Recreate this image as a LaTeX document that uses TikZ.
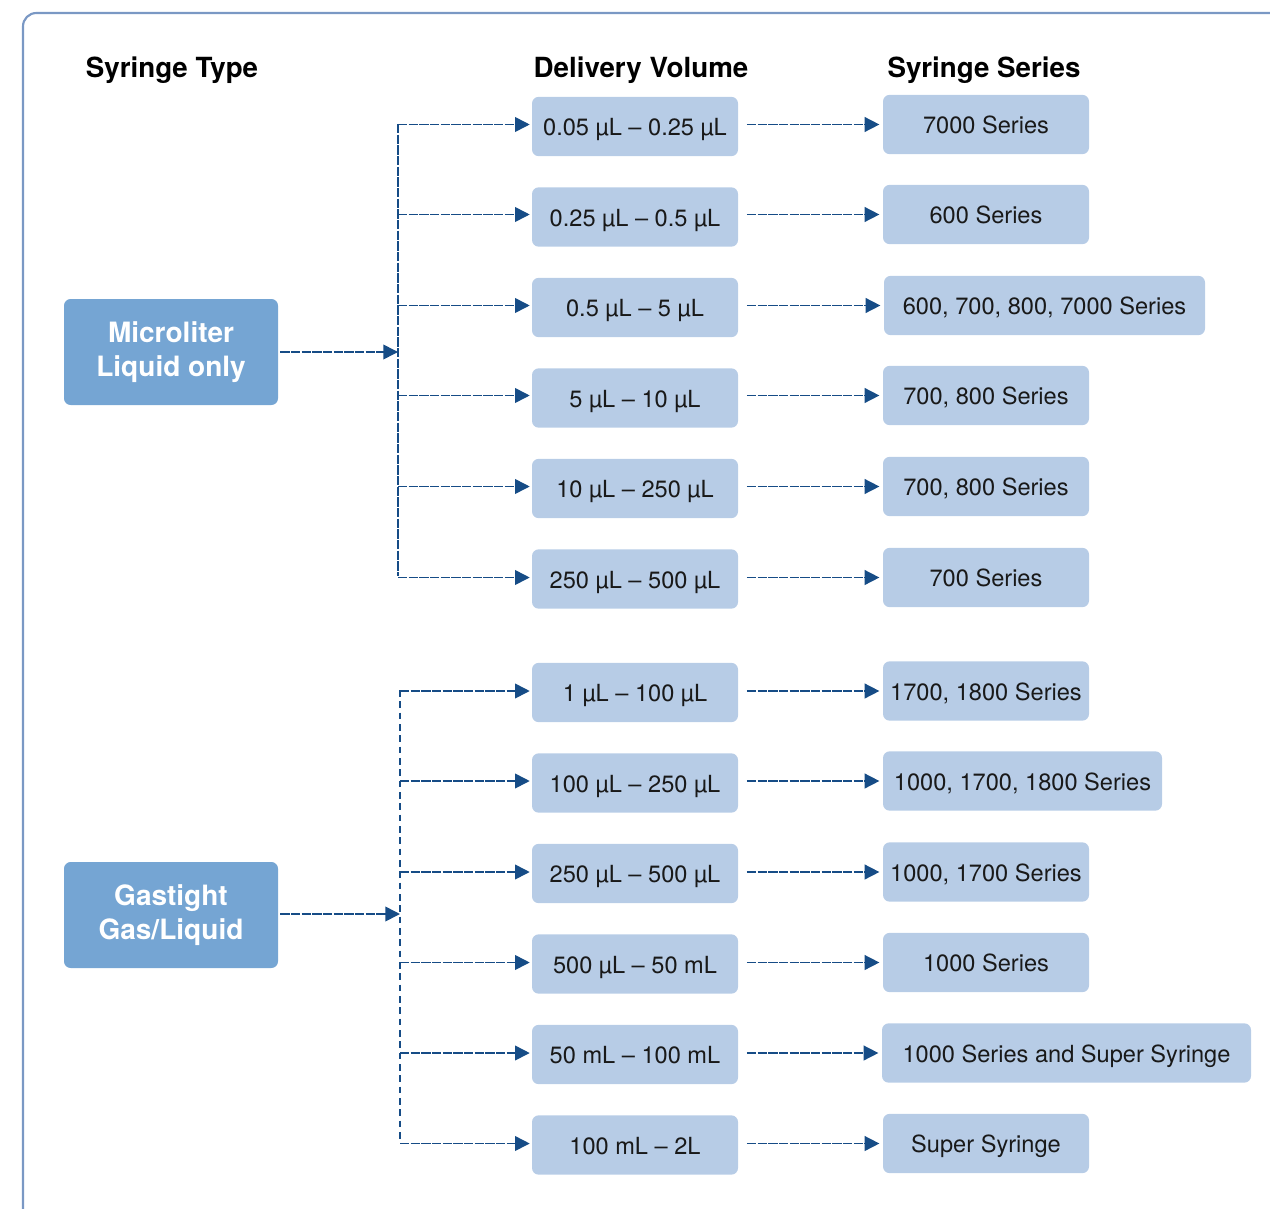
\documentclass[tikz,border=0pt]{standalone}
\usepackage{fontspec}
\setmainfont{TeX Gyre Heros}
\usetikzlibrary{arrows.meta}
\definecolor{framec}{RGB}{122,152,196}
\definecolor{darkbox}{RGB}{117,165,211}
\definecolor{lightbox}{RGB}{183,204,230}
\definecolor{arrc}{RGB}{22,76,134}
\definecolor{txt}{RGB}{25,25,25}
\tikzset{
  header/.style={font=\fontsize{20.8}{24}\selectfont\bfseries, text=black},
  typebox/.style={fill=darkbox, rounded corners=5pt, minimum width=160.5pt, minimum height=79.5pt, inner sep=0pt, align=center, text=white, font=\fontsize{21}{25.5}\selectfont\bfseries},
  volbox/.style={fill=lightbox, rounded corners=5pt, minimum width=154.5pt, minimum height=44.5pt, inner sep=0pt, text=txt, font=\fontsize{17.7}{21}\selectfont, text height=14.2pt, text depth=0pt},
  serbox/.style={volbox},
  conn/.style={draw=arrc, line width=1.2pt, dash pattern=on 7pt off 1pt},
  trunk2/.style={draw=arrc, line width=1.2pt, dash pattern=on 5pt off 3.5pt},
  arr/.style={conn, -{Triangle[length=11pt,width=11pt]}},
}
\begin{document}
\begin{tikzpicture}[x=0.75pt,y=-0.75pt]
\useasboundingbox (0,0) rectangle (1270,1209);
% frame
\draw[framec, line width=1.6pt, rounded corners=10pt] (23,1220) -- (23,13) -- (1280,13);
% headers
\node[header] (h1) at (172,70) {Syringe Type};
\node[header] (h2) at (641,70) {Delivery Volume};
\node[header] (h3) at (984,70) {Syringe Series};
% type boxes
\node[typebox] (mic) at (171,352) {\raisebox{-3pt}{Microliter}\\\raisebox{-3pt}{Liquid only}};
\node[typebox] (gas) at (171,915) {\raisebox{-3pt}{Gastight}\\\raisebox{-3pt}{Gas/Liquid}};
% volume boxes
\node[volbox] (v1) at (635,126.5) {0.05 µL – 0.25 µL};
\node[volbox] (v2) at (635,217) {0.25 µL – 0.5 µL};
\node[volbox] (v3) at (635,307.5) {0.5 µL – 5 µL};
\node[volbox] (v4) at (635,398) {5 µL – 10 µL};
\node[volbox] (v5) at (635,488.5) {10 µL – 250 µL};
\node[volbox] (v6) at (635,579) {250 µL – 500 µL};
\node[volbox] (v7) at (635,692.5) {1 µL – 100 µL};
\node[volbox] (v8) at (635,783) {100 µL – 250 µL};
\node[volbox] (v9) at (635,873.5) {250 µL – 500 µL};
\node[volbox] (v10) at (635,964) {500 µL – 50 mL};
\node[volbox] (v11) at (635,1054.5) {50 mL – 100 mL};
\node[volbox] (v12) at (635,1145) {100 mL – 2L};
% series boxes
\node[serbox] (s1) at (986,124.5) {7000 Series};
\node[serbox] (s2) at (986,214.5) {600 Series};
\node[serbox, minimum width=240.75pt] (s3) at (1044.5,305.5) {600, 700, 800, 7000 Series};
\node[serbox] (s4) at (986,395.5) {700, 800 Series};
\node[serbox] (s5) at (986,486.5) {700, 800 Series};
\node[serbox] (s6) at (986,577.5) {700 Series};
\node[serbox] (s7) at (986,691) {1700, 1800 Series};
\node[serbox, minimum width=209.25pt] (s8) at (1022.5,781) {1000, 1700, 1800 Series};
\node[serbox] (s9) at (986,872) {1000, 1700 Series};
\node[serbox] (s10) at (986,962.5) {1000 Series};
\node[serbox, minimum width=276.75pt] (s11) at (1066.5,1053) {1000 Series and Super Syringe};
\node[serbox] (s12) at (986,1143.5) {Super Syringe};
% junction coordinates
\coordinate (j1) at (398,352);
\coordinate (j2) at (400,914);
\coordinate (ta) at (398,124);
\coordinate (tb) at (398,576);
\coordinate (tc) at (400,690);
\coordinate (td) at (400,1141);
% trunks
\draw[conn] (ta) -- (tb);
\draw[trunk2] (tc) -- (td);
% type arrows
\draw[arr] ([xshift=1.5pt]mic.east |- j1) -- (j1);
\draw[arr] ([xshift=1.5pt]gas.east |- j2) -- (j2);
% branches
\foreach \i in {1,...,6}{
  \draw[arr, shorten >=1.5pt] (ta |- s\i.west) -- (v\i.west |- s\i.west);
}
\foreach \i in {7,...,12}{
  \draw[arr, shorten >=1.5pt] (tc |- s\i.west) -- (v\i.west |- s\i.west);
}
% volume -> series
\foreach \i in {1,...,12}{
  \draw[arr, shorten >=2.5pt] ([xshift=6.5pt]v\i.east |- s\i.west) -- (s\i.west);
}
\end{tikzpicture}
\end{document}
